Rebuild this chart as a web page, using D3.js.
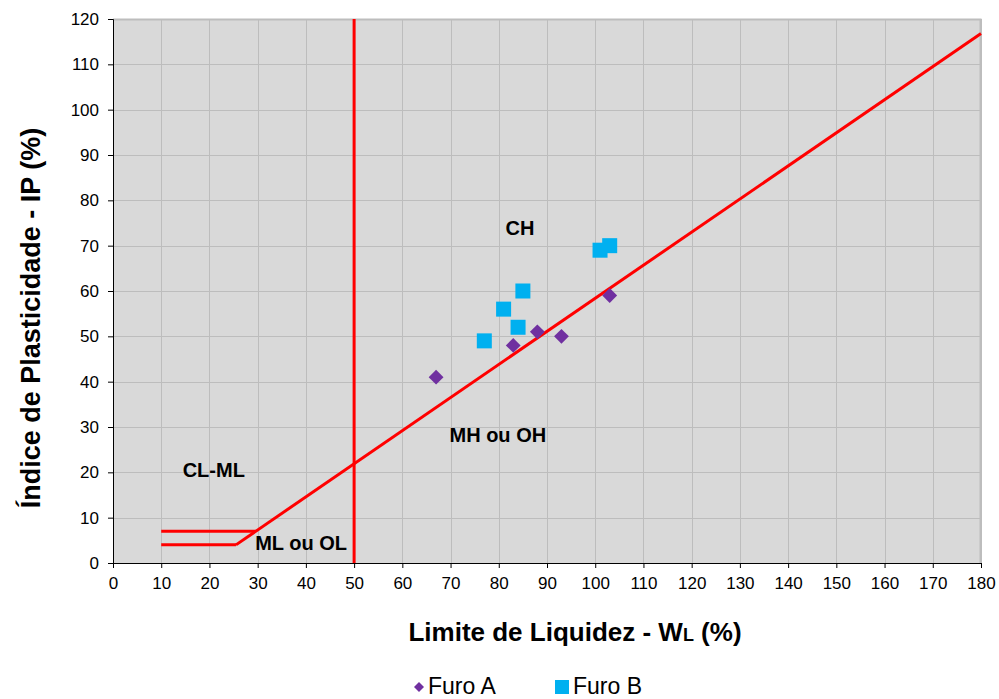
<!DOCTYPE html>
<html>
<head>
<meta charset="utf-8">
<script src="https://cdn.jsdelivr.net/npm/d3@7"></script>
<style>
  html, body { margin: 0; padding: 0; background: #fff; }
  svg { display: block; font-family: "Liberation Sans", Arial, sans-serif; }
</style>
</head>
<body>
<svg id="chart" width="999" height="699"></svg>
<script>
// Plasticity chart (Casagrande): liquid limit vs plasticity index
const xTicks = d3.range(0, 181, 10);
const yTicks = d3.range(0, 121, 10);

const furoA_LL = [67, 83, 88, 93, 103];
const furoA_IP = [41, 48, 51, 50, 59];
const furoB_LL = [77, 81, 84, 85, 101, 103];
const furoB_IP = [49, 56, 52, 60, 69, 70];

// Reference lines: A-line, CL-ML band limits and LL = 50 boundary
const aLineLL = [25.5, 180];
const aLineIP = [4, 116.8];
const band7LL = [10, 29.6];
const band7IP = [7, 7];
const band4LL = [10, 25.5];
const band4IP = [4, 4];
const vLineLL = [50, 50];
const vLineIP = [0, 120];

// Zone names, anchored at their text baseline
const zoneNames = ["CH", "MH ou OH", "CL-ML", "ML ou OL"];
const zoneLL = [84.4, 79.8, 20.9, 39];
const zoneIP = [72.4, 26.7, 19, 2.9];

const seriesNames = ["Furo A", "Furo B"];

const svg = d3.select("#chart");
const m = { left: 113, right: 981, top: 19, bottom: 563 };

const x = d3.scaleLinear().domain([0, 180]).range([m.left, m.right]);
const y = d3.scaleLinear().domain([0, 120]).range([m.bottom, m.top]);

// Plot background
svg.append("rect")
  .attr("x", m.left).attr("y", m.top)
  .attr("width", m.right - m.left).attr("height", m.bottom - m.top)
  .attr("fill", "#d9d9d9");

// Grid
const grid = svg.append("g").attr("stroke", "#bdbdbd").attr("stroke-width", 1);
grid.selectAll("line.v").data(xTicks.slice(1)).join("line")
  .attr("x1", d => Math.round(x(d)) + 0.5).attr("x2", d => Math.round(x(d)) + 0.5)
  .attr("y1", m.top).attr("y2", m.bottom);
grid.selectAll("line.h").data(yTicks.slice(1)).join("line")
  .attr("y1", d => Math.round(y(d)) + 0.5).attr("y2", d => Math.round(y(d)) + 0.5)
  .attr("x1", m.left).attr("x2", m.right);

// Outer frame (top / right)
svg.append("path")
  .attr("d", `M${m.left},${m.top + 0.5}H${m.right - 0.5}V${m.bottom}`)
  .attr("fill", "none").attr("stroke", "#bdbdbd").attr("stroke-width", 2);

// Axes
const xAxis = svg.append("g")
  .attr("transform", `translate(0,${m.bottom})`)
  .call(d3.axisBottom(x).tickValues(xTicks).tickSize(5).tickPadding(9).tickFormat(d3.format("d")));
const yAxis = svg.append("g")
  .attr("transform", `translate(${m.left},0)`)
  .call(d3.axisLeft(y).tickValues(yTicks).tickSize(5).tickPadding(9).tickFormat(d3.format("d")));
[xAxis, yAxis].forEach(a => {
  a.selectAll("path").attr("stroke", "#000");
  a.selectAll("line").attr("stroke", "#000");
  a.selectAll("text").attr("font-size", 17).attr("fill", "#000")
    .attr("font-family", "Liberation Sans, Arial, sans-serif");
});

// Red reference lines
const line = d3.line().x(d => x(d[0])).y(d => y(d[1]));
const refLines = [
  [aLineLL, aLineIP],
  [band7LL, band7IP],
  [band4LL, band4IP],
  [vLineLL, vLineIP]
];
svg.append("g").selectAll("path").data(refLines).join("path")
  .attr("d", d => line(d[0].map((v, i) => [v, d[1][i]])))
  .attr("fill", "none").attr("stroke", "#ff0000").attr("stroke-width", 3);

// Zone labels
svg.append("g").selectAll("text").data(zoneNames).join("text")
  .attr("x", (d, i) => x(zoneLL[i])).attr("y", (d, i) => y(zoneIP[i]))
  .attr("text-anchor", "middle")
  .attr("font-size", 20).attr("font-weight", "bold").attr("fill", "#000")
  .text(d => d);

// Points
const purple = "#7030a0", cyan = "#00b0f0";
svg.append("g").selectAll("path").data(furoA_LL).join("path")
  .attr("d", d3.symbol().type(d3.symbolSquare).size(110))
  .attr("transform", (d, i) => `translate(${x(d)},${y(furoA_IP[i])}) rotate(45)`)
  .attr("fill", purple);
svg.append("g").selectAll("rect").data(furoB_LL).join("rect")
  .attr("x", d => x(d) - 7.5).attr("y", (d, i) => y(furoB_IP[i]) - 7.5)
  .attr("width", 15).attr("height", 15)
  .attr("fill", cyan);

// Axis titles
svg.append("text")
  .attr("transform", `translate(40,318) rotate(-90)`)
  .attr("text-anchor", "middle")
  .attr("font-size", 27).attr("font-weight", "bold").attr("fill", "#000")
  .text("Índice de Plasticidade - IP (%)");

const xt = svg.append("text")
  .attr("x", 575).attr("y", 641)
  .attr("text-anchor", "middle")
  .attr("font-size", 26).attr("font-weight", "bold").attr("fill", "#000");
xt.append("tspan").text("Limite de Liquidez - W");
xt.append("tspan").attr("font-size", 18).text("L");
xt.append("tspan").text(" (%)");

// Legend
const leg = svg.append("g").attr("font-size", 23).attr("fill", "#000");
leg.append("path")
  .attr("d", d3.symbol().type(d3.symbolSquare).size(50))
  .attr("transform", "translate(419,687) rotate(45)")
  .attr("fill", purple);
leg.append("text").attr("x", 428).attr("y", 694).text(seriesNames[0]);
leg.append("rect").attr("x", 555).attr("y", 680).attr("width", 14).attr("height", 14).attr("fill", cyan);
leg.append("text").attr("x", 573).attr("y", 694).text(seriesNames[1]);
</script>
</body>
</html>
